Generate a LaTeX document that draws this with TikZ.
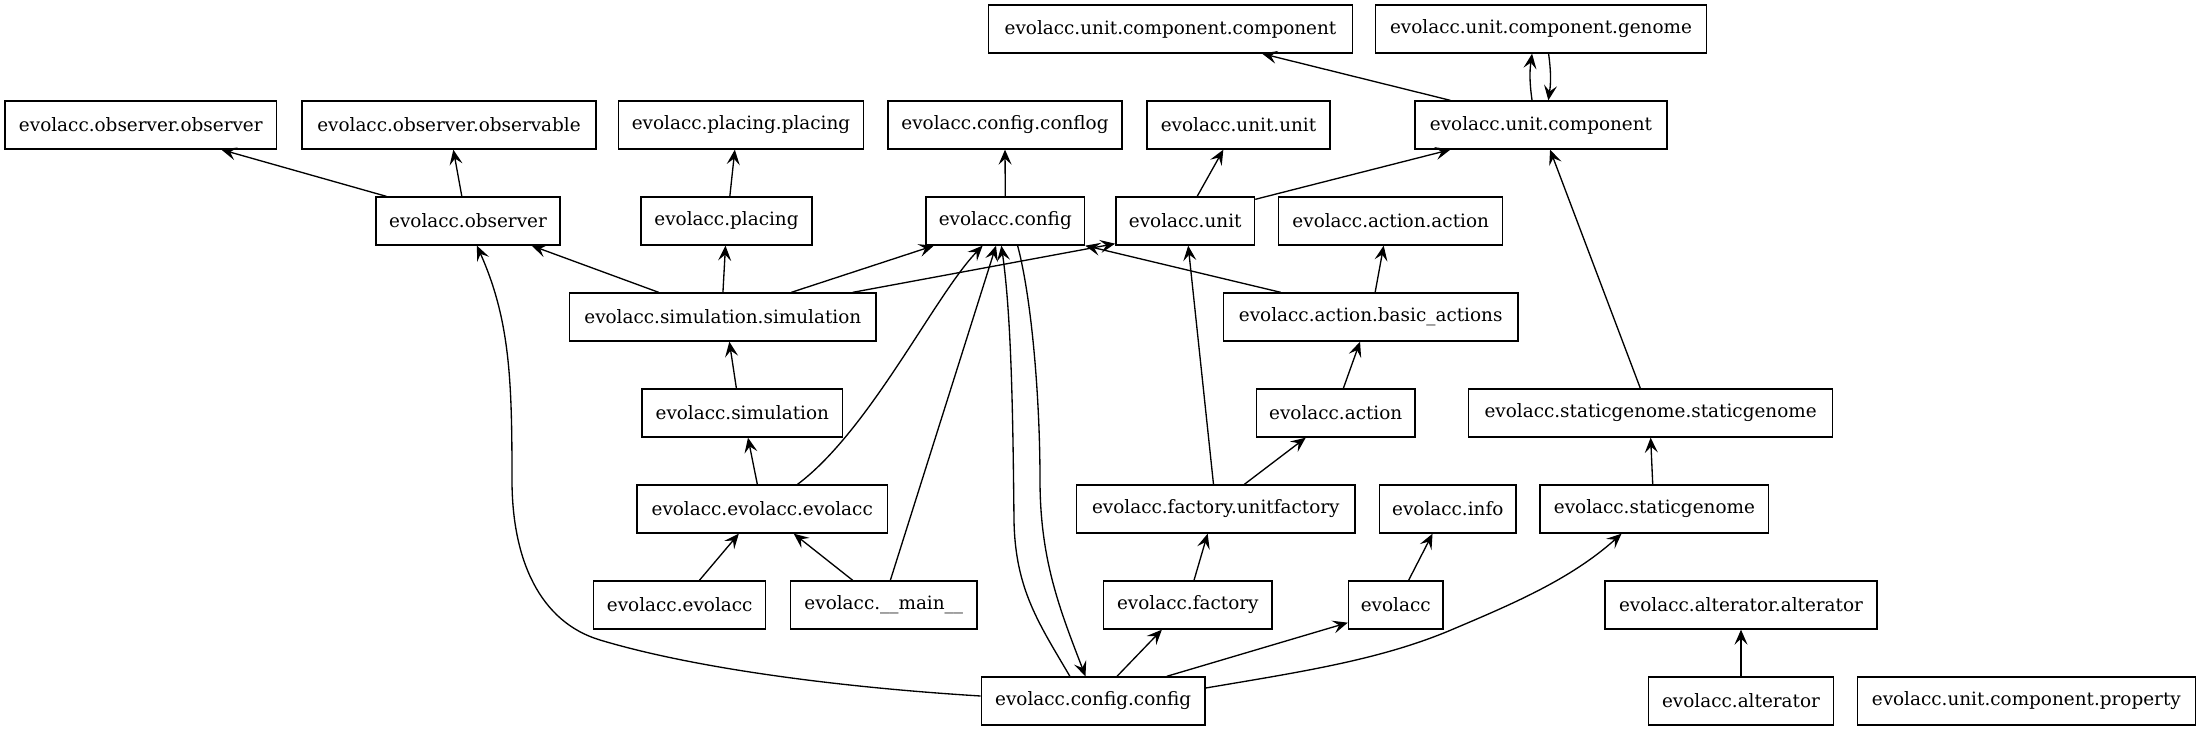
\documentclass[tikz,border=0pt]{standalone}
\usepackage{fontspec}
\setmainfont{DejaVu Serif}
\usetikzlibrary{arrows.meta}
\begin{document}
\begin{tikzpicture}[x=1pt,y=-1pt,
  mod/.style={draw=black,line width=1.33pt,inner sep=0pt,minimum height=48pt,
    font=\fontsize{18.4}{22}\selectfont,fill=white},
  dep/.style={draw=black,line width=1.33pt,-{Stealth[length=15pt,width=13pt,inset=6pt]}}]
\useasboundingbox[fill=white] (0,0) rectangle (2201,731);
% row 1
\node[mod,minimum width=363.4pt] (compcomp) at (1170.5,29) {evolacc.unit.component.component};
\node[mod,minimum width=330.5pt] (genome) at (1541,29) {evolacc.unit.component.genome};
% row 2
\node[mod,minimum width=271.5pt] (obsobs) at (140.8,125) {evolacc.observer.observer};
\node[mod,minimum width=294pt] (observable) at (449,125) {evolacc.observer.observable};
\node[mod,minimum width=245pt] (placplac) at (741,125) {evolacc.placing.placing};
\node[mod,minimum width=234pt] (conflog) at (1005,125) {evolacc.config.conflog};
\node[mod,minimum width=183pt] (unitunit) at (1238.5,125) {evolacc.unit.unit};
\node[mod,minimum width=252pt] (unitcomp) at (1541,125) {evolacc.unit.component};
% row 3
\node[mod,minimum width=184pt] (observer) at (468,221) {evolacc.observer};
\node[mod,minimum width=171pt] (placing) at (726.5,221) {evolacc.placing};
\node[mod,minimum width=158.6pt] (config) at (1005.3,221) {evolacc.config};
\node[mod,minimum width=138.7pt] (unit) at (1185.2,221) {evolacc.unit};
\node[mod,minimum width=224.1pt] (actact) at (1390.7,221) {evolacc.action.action};
% row 4
\node[mod,minimum width=306.4pt] (simsim) at (722.8,317) {evolacc.simulation.simulation};
\node[mod,minimum width=294.6pt] (basic) at (1370.7,317) {evolacc.action.basic\_actions};
% row 5
\node[mod,minimum width=200.5pt] (simulation) at (742.3,413) {evolacc.simulation};
\node[mod,minimum width=158.6pt] (action) at (1335.7,413) {evolacc.action};
\node[mod,minimum width=364.2pt] (statstat) at (1650.6,413) {evolacc.staticgenome.staticgenome};
% row 6
\node[mod,minimum width=250.4pt] (eee) at (762.2,509) {evolacc.evolacc.evolacc};
\node[mod,minimum width=278.4pt] (unitfactory) at (1215.8,509) {evolacc.factory.unitfactory};
\node[mod,minimum width=136.4pt] (info) at (1447.8,509) {evolacc.info};
\node[mod,minimum width=228.8pt] (staticgenome) at (1654.4,509) {evolacc.staticgenome};
% row 7
\node[mod,minimum width=171.9pt] (ee) at (679.7,605) {evolacc.evolacc};
\node[mod,minimum width=186.4pt] (main) at (883.8,605) {evolacc.\_\_main\_\_};
\node[mod,minimum width=168.5pt] (factory) at (1187.8,605) {evolacc.factory};
\node[mod,minimum width=94.5pt] (evolacc) at (1395.7,605) {evolacc};
\node[mod,minimum width=272.2pt] (alteralter) at (1741,605) {evolacc.alterator.alterator};
% row 8
\node[mod,minimum width=223.7pt] (cc) at (1093.2,701) {evolacc.config.config};
\node[mod,minimum width=184.4pt] (alterator) at (1741,701) {evolacc.alterator};
\node[mod,minimum width=338.2pt] (property) at (2026.3,701) {evolacc.unit.component.property};
% edges
\draw[dep] ([xshift=11pt]observer.north west) -- ([xshift=217pt]obsobs.south west);
\draw[dep] ([xshift=86.5pt]observer.north west) -- ([xshift=152pt]observable.south west);
\draw[dep] ([xshift=89.5pt]placing.north west) -- ([xshift=117pt]placplac.south west);
\draw[dep] (config.north) -- (conflog.south);
\draw[dep] ([xshift=82pt]unit.north west) -- ([xshift=77pt]unitunit.south west);
\draw[dep] ([yshift=-3pt]unit.north east) -- ([xshift=36pt]unitcomp.south west);
\draw[dep] ([xshift=36pt]unitcomp.north west) -- ([xshift=274pt]compcomp.south west);
\draw[dep] ([xshift=117.7pt]unitcomp.north west) to[bend left=8] ([xshift=157pt]genome.south west);
\draw[dep] ([xshift=173.5pt]genome.south west) to[bend left=8] ([xshift=134pt]unitcomp.north west);
\draw[dep] ([xshift=89.7pt]simsim.north west) -- ([xshift=156.3pt]observer.south west);
\draw[dep] ([xshift=154pt]simsim.north west) -- ([xshift=-1pt]placing.south);
\draw[dep] ([xshift=222.4pt]simsim.north west) -- ([xshift=8.5pt]config.south west);
\draw[dep] ([xshift=283.8pt]simsim.north west) -- ([yshift=2pt]unit.south west);
\draw[dep] ([xshift=58pt]basic.north west) -- (config.south east);
\draw[dep] ([xshift=152.4pt]basic.north west) -- ([xshift=105.7pt]actact.south west);
\draw[dep] ([xshift=95pt]simulation.north west) -- ([xshift=160.4pt]simsim.south west);
\draw[dep] ([xshift=121pt]eee.north west) -- ([xshift=106.6pt]simulation.south west);
\draw[dep] ([xshift=161.2pt]eee.north west) .. controls (870,430) and (935,295) .. ([xshift=57.3pt]config.south west);
\draw[dep] ([xshift=106.3pt]ee.north west) -- ([xshift=102.5pt]eee.south west);
\draw[dep] ([xshift=62.8pt]main.north west) -- ([xshift=157.4pt]eee.south west);
\draw[dep] ([xshift=100.4pt]main.north west) -- ([xshift=70.7pt]config.south west);
\draw[dep] ([xshift=89.2pt]cc.north west) .. controls (1040,625) and (1015,590) .. (1014,520)
  .. controls (1013,430) and (1012,320) .. ([xshift=76pt]config.south west);
\draw[dep] ([xshift=92.3pt]config.south west) .. controls (1032,300) and (1040,400) .. (1040,480)
  .. controls (1040,560) and (1060,610) .. ([xshift=104.8pt]cc.north west);
\draw[dep] ([yshift=5pt]cc.west) .. controls (850,688) and (700,670) .. (600,640)
  .. controls (540,622) and (512,560) .. (512,480)
  .. controls (512,380) and (510,320) .. ([xshift=101.6pt]observer.south west);
\draw[dep] ([xshift=136.3pt]cc.north west) -- ([xshift=59pt]factory.south west);
\draw[dep] ([xshift=186pt]cc.north west) -- ([yshift=7pt]evolacc.south west);
\draw[dep] ([yshift=13pt]cc.east) .. controls (1300,672) and (1380,660) .. (1451,630)
  .. controls (1510,605) and (1570,580) .. ([xshift=82.2pt]staticgenome.south west);
\draw[dep] ([xshift=-2.3pt]unitfactory.north) -- ([xshift=3pt]unit.south);
\draw[dep] ([xshift=168.4pt]unitfactory.north west) -- ([xshift=50pt]action.south west);
\draw[dep] ([xshift=91.1pt]factory.north west) -- ([xshift=131.7pt]unitfactory.south west);
\draw[dep] ([xshift=87.6pt]action.north west) -- ([xshift=137.3pt]basic.south west);
\draw[dep] ([xshift=60.8pt]evolacc.north west) -- ([xshift=53.6pt]info.south west);
\draw[dep] ([xshift=113.4pt]staticgenome.north west) -- ([xshift=182.8pt]statstat.south west);
\draw[dep] ([xshift=172.5pt]statstat.north west) -- ([xshift=135.7pt]unitcomp.south west);
\draw[dep] (alterator.north) -- (alteralter.south);
\end{tikzpicture}
\end{document}
